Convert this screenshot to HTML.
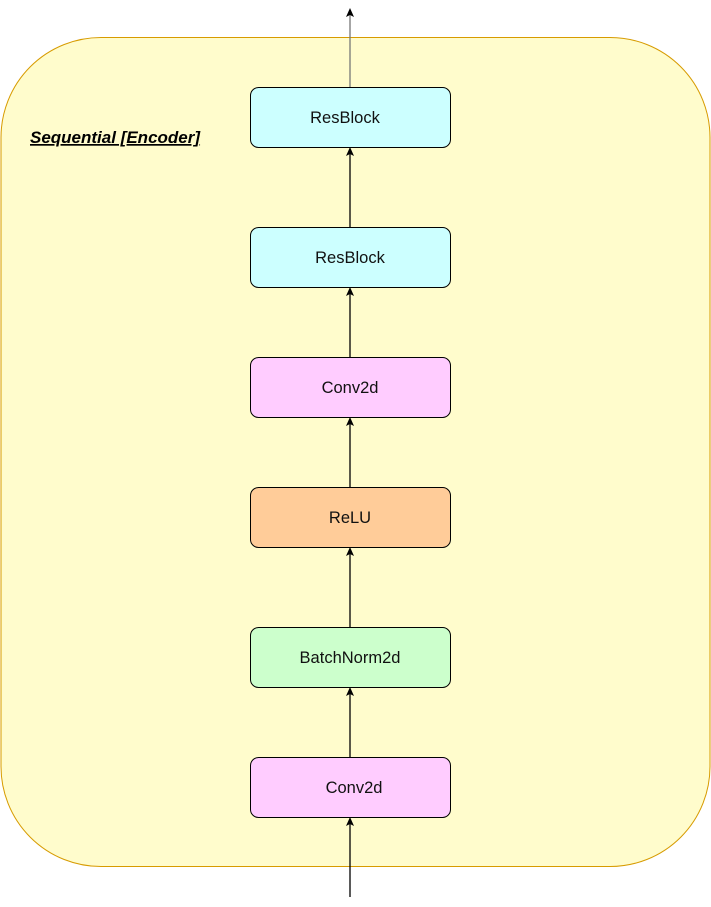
<!DOCTYPE html>
<html><head><meta charset="utf-8"><style>html,body{margin:0;padding:0;background:#fff}svg{display:block}</style></head>
<body>
<svg width="711" height="907" viewBox="0 0 711 907" xmlns="http://www.w3.org/2000/svg" font-family="Liberation Sans, sans-serif">
<defs>
<marker id="a" markerWidth="8" markerHeight="8" refX="4" refY="8" orient="auto" markerUnits="userSpaceOnUse" viewBox="0 0 8 8">
<path d="M0,8 L4,0 L8,8 L4,6 Z" transform="rotate(90 4 4)" fill="#000"/>
</marker>
</defs>
<rect x="1" y="37.5" width="709" height="829" rx="100" ry="100" fill="#fffccc" stroke="#d79b00" stroke-width="1"/>
<text x="30" y="143" font-size="17" font-weight="bold" font-style="italic" text-decoration="underline">Sequential [Encoder]</text>
<g stroke-width="1.3">
<line x1="350" y1="87" x2="350" y2="15" stroke="#777"/>
<path d="M346,17 L350,8 L354,17 L350,15 Z" fill="#000"/>
<g stroke="#000">
<line x1="350" y1="897" x2="350" y2="824"/>
<line x1="350" y1="757" x2="350" y2="694"/>
<line x1="350" y1="627" x2="350" y2="554"/>
<line x1="350" y1="487" x2="350" y2="424"/>
<line x1="350" y1="357" x2="350" y2="294"/>
<line x1="350" y1="227" x2="350" y2="154"/>
</g>
<g fill="#000">
<path d="M346,826 L350,817 L354,826 L350,824 Z"/>
<path d="M346,696 L350,687 L354,696 L350,694 Z"/>
<path d="M346,556 L350,547 L354,556 L350,554 Z"/>
<path d="M346,426 L350,417 L354,426 L350,424 Z"/>
<path d="M346,296 L350,287 L354,296 L350,294 Z"/>
<path d="M346,156 L350,147 L354,156 L350,154 Z"/>
</g>
</g>
<g stroke="#000" stroke-width="1">
<rect x="250.5" y="87.5" width="200" height="60" rx="8" fill="#ccffff"/>
<rect x="250.5" y="227.5" width="200" height="60" rx="8" fill="#ccffff"/>
<rect x="250.5" y="357.5" width="200" height="60" rx="8" fill="#ffccff"/>
<rect x="250.5" y="487.5" width="200" height="60" rx="8" fill="#ffcc99"/>
<rect x="250.5" y="627.5" width="200" height="60" rx="8" fill="#ccffcc"/>
<rect x="250.5" y="757.5" width="200" height="60" rx="8" fill="#ffccff"/>
</g>
<g font-size="16.5" text-anchor="middle" fill="#111">
<text x="345" y="123">ResBlock</text>
<text x="350" y="263">ResBlock</text>
<text x="350" y="393">Conv2d</text>
<text x="350" y="523">ReLU</text>
<text x="350" y="663">BatchNorm2d</text>
<text x="354" y="793">Conv2d</text>
</g>
</svg>
</body></html>
